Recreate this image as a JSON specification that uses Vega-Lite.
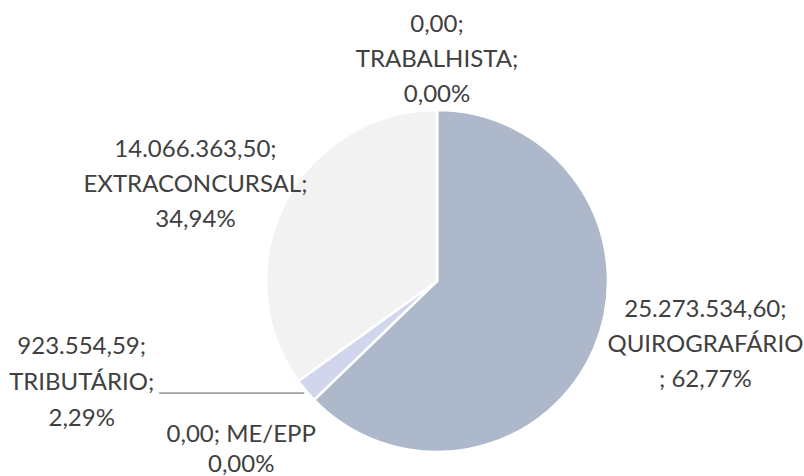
{
  "$schema": "https://vega.github.io/schema/vega-lite/v6.json",
  "autosize": "none",
  "width": 734,
  "height": 390,
  "padding": {"left": 70, "top": 86, "right": 0, "bottom": 0},
  "background": "white",
  "view": {"stroke": null},
  "config": {"text": {"font": "Lato", "fontSize": 24, "color": "#404040", "lineHeight": 35, "lineBreak": "\n"}},
  "data": {"values": [
    {"ord": 1, "cat": "QUIROGRAFÁRIO", "value": 25273534.60, "label": "25.273.534,60;\nQUIROGRAFÁRIO\n; 62,77%"},
    {"ord": 2, "cat": "ME/EPP", "value": 0, "label": "0,00; ME/EPP\n0,00%"},
    {"ord": 3, "cat": "TRIBUTÁRIO", "value": 923554.59, "label": "923.554,59;\nTRIBUTÁRIO;\n2,29%"},
    {"ord": 4, "cat": "EXTRACONCURSAL", "value": 14066363.50, "label": "14.066.363,50;\nEXTRACONCURSAL;\n34,94%"},
    {"ord": 5, "cat": "TRABALHISTA", "value": 0, "label": "0,00;\nTRABALHISTA;\n0,00%"}
  ]},
  "encoding": {
    "theta": {"field": "value", "type": "quantitative", "stack": true},
    "order": {"field": "ord", "type": "quantitative"}
  },
  "layer": [
    {
      "mark": {"type": "arc", "outerRadius": 171, "stroke": "white", "strokeWidth": 2.5},
      "encoding": {
        "color": {"field": "cat", "type": "nominal", "legend": null,
          "scale": {"domain": ["QUIROGRAFÁRIO", "ME/EPP", "TRIBUTÁRIO", "EXTRACONCURSAL", "TRABALHISTA"],
                    "range": ["#ADB9CA", "#C9D0E6", "#D1D6EC", "#F2F2F2", "#E0E0E0"]}}
      }
    },
    {
      "mark": {"type": "text", "radius": 224, "dy": -32, "align": "center", "baseline": "middle"},
      "encoding": {"text": {"condition": {"test": "datum.cat === 'TRABALHISTA'", "field": "label"}, "value": ""}}
    },
    {
      "mark": {"type": "text", "radius": 259, "dx": -11, "dy": -13, "align": "center", "baseline": "middle"},
      "encoding": {"text": {"condition": {"test": "datum.cat === 'EXTRACONCURSAL'", "field": "label"}, "value": ""}}
    },
    {
      "mark": {"type": "text", "radius": 272, "dx": 18, "dy": -77, "align": "center", "baseline": "middle"},
      "encoding": {"text": {"condition": {"test": "datum.cat === 'QUIROGRAFÁRIO'", "field": "label"}, "value": ""}}
    },
    {
      "mark": {"type": "text", "radius": 338, "dx": -96, "dy": -151, "align": "center", "baseline": "middle", "lineHeight": 36},
      "encoding": {"text": {"condition": {"test": "datum.cat === 'TRIBUTÁRIO'", "field": "label"}, "value": ""}}
    },
    {
      "mark": {"type": "text", "radius": 257, "dx": -11, "dy": -25, "align": "center", "baseline": "middle", "lineHeight": 30},
      "encoding": {"text": {"condition": {"test": "datum.cat === 'ME/EPP'", "field": "label"}, "value": ""}}
    },
    {
      "mark": {"type": "text", "radius": 171, "dx": -2, "dy": 3, "align": "right", "baseline": "middle", "font": "DejaVu Sans", "fontSize": 20, "color": "#A6A6A6"},
      "encoding": {"text": {"condition": {"test": "datum.cat === 'TRIBUTÁRIO'", "value": "────────────"}, "value": ""}}
    }
  ]
}
